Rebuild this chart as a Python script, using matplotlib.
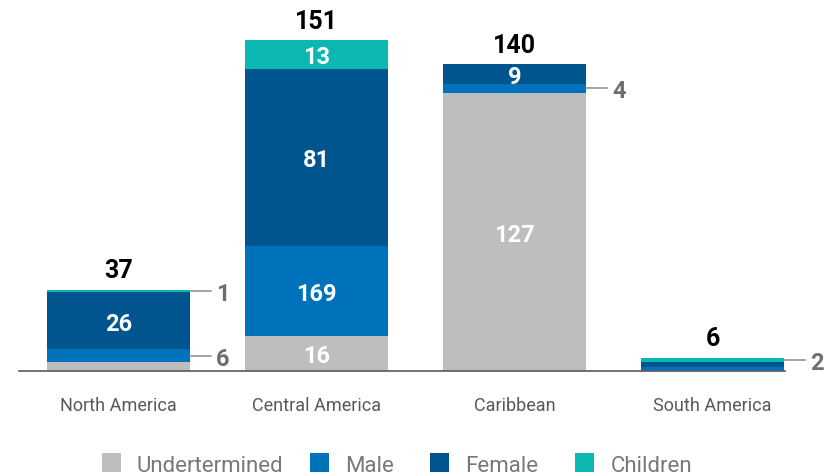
import matplotlib.pyplot as plt
import numpy as np
from matplotlib.patches import Rectangle

plt.rcParams["font.family"] = ["Roboto", "DejaVu Sans"]

###############################################################################
# Data
###############################################################################

categories = ["North America", "Central America", "Caribbean", "South America"]
series = ["Undertermined", "Male", "Female", "Children"]

undetermined = [4, 16, 127, 0]
male = [6, 41, 4, 2]
female = [26, 81, 9, 2]
children = [1, 13, 0, 2]

# numbers printed inside each segment (None -> nothing printed)
undetermined_labels = [None, "16", "127", None]
male_labels = [None, "169", None, None]
female_labels = ["26", "81", "9", None]
children_labels = [None, "13", None, None]

# thin segments get their number outside the bar: (category, series, text)
side_labels = [(0, 3, "1"), (0, 1, "6"), (2, 1, "4"), (3, 3, "2")]

colors = ["#bcbec0", "#0072bc", "#00558f", "#0bb8b1"]

###############################################################################
# Figure
###############################################################################

W, H = 832, 477
fig = plt.figure(figsize=(W / 100, H / 100), dpi=100)

# axes in pixel terms: baseline at y=372 from top, 2.192 px per unit
ymax = 160
left_px, right_px, base_px = 19, 785, 372
ax = fig.add_axes([left_px / W, (H - base_px) / H,
                   (right_px - left_px) / W, ymax * 2.192 / H])

step = 198.0
width = 143 / step
x = np.arange(len(categories))
ax.set_xlim((left_px - 118.5) / step, (right_px - 118.5) / step)
ax.set_ylim(0, ymax)

stack = np.array([undetermined, male, female, children], dtype=float)
bottoms = np.vstack([np.zeros(len(categories)), np.cumsum(stack, axis=0)[:-1]])
totals = stack.sum(axis=0)

for i in range(len(series)):
    ax.bar(x, stack[i], width, bottom=bottoms[i], color=colors[i],
           linewidth=0, zorder=2)

inside = [undetermined_labels, male_labels, female_labels, children_labels]
for i, labels in enumerate(inside):
    for j, text in enumerate(labels):
        if text is None:
            continue
        ax.text(x[j], bottoms[i][j] + stack[i][j] / 2, text,
                ha="center", va="center_baseline", color="white",
                fontsize=17, fontweight="bold", zorder=3)

for j, i, text in side_labels:
    y = bottoms[i][j] + stack[i][j] / 2
    xe = x[j] + width / 2
    ax.plot([xe, xe + 21 / step], [y, y], color="#8a8c8e", lw=1.1,
            clip_on=False, zorder=3)
    ax.text(xe + 26 / step, y, text, ha="left", va="center_baseline",
            color="#6d6e71", fontsize=17, fontweight="bold")

for j, t in enumerate(totals):
    ax.annotate(f"{t:.0f}", (x[j], t), xytext=(0, 9),
                textcoords="offset points", ha="center", va="baseline",
                fontsize=18, fontweight="bold", color="black")

for side in ("top", "left", "right"):
    ax.spines[side].set_visible(False)
ax.spines["bottom"].set_color("#58595b")
ax.spines["bottom"].set_linewidth(1.2)
ax.set_yticks([])
ax.set_xticks(x, categories)
ax.tick_params(axis="x", length=0, pad=18, labelsize=13, labelcolor="#58595b")

# legend row along the bottom edge
square_x = [102, 310, 430, 575]
text_x = [137, 345, 465, 611]
for i, name in enumerate(series):
    fig.add_artist(Rectangle((square_x[i] / W, 4 / H), 19 / W, 19 / H,
                             transform=fig.transFigure, color=colors[i],
                             linewidth=0))
    fig.text(text_x[i] / W, 5 / H, name, ha="left", va="baseline",
             fontsize=16, fontweight="normal", color="#77787b")

fig.savefig("out.png", dpi=100)
